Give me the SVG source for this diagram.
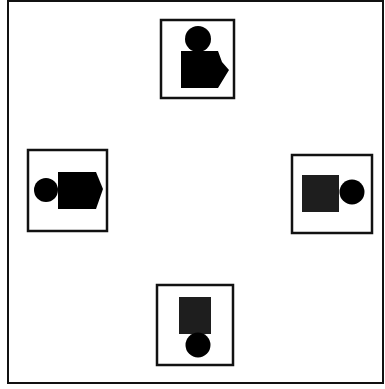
<svg xmlns="http://www.w3.org/2000/svg" width="385" height="389" viewBox="0 0 385 389">
<style>
.frame{fill:#fff;stroke:#111;stroke-width:2}
.box{fill:#fff;stroke:#111;stroke-width:2.5}
.solid{fill:#000}
.grey{fill:#1e1e1e}
</style>
<rect x="0" y="0" width="385" height="389" fill="#fff"/>
<rect id="frame" class="frame" x="8" y="1" width="375" height="382"/>
<g id="node-top">
<rect class="box" x="161" y="20" width="73" height="78"/>
<circle class="solid" cx="198" cy="39" r="13"/>
<polygon class="solid" points="181,51 218,51 222,62 229,70 218,88 181,88"/>
</g>
<g id="node-left">
<rect class="box" x="28" y="150" width="79" height="81"/>
<circle class="solid" cx="46" cy="190" r="12"/>
<polygon class="solid" points="58,172 96,172 103,189 96,209 58,209"/>
</g>
<g id="node-right">
<rect class="box" x="292" y="155" width="80" height="78"/>
<rect class="grey" x="302" y="175" width="37" height="37"/>
<circle class="solid" cx="352" cy="192" r="12.5"/>
</g>
<g id="node-bottom">
<rect class="box" x="157" y="285" width="76" height="80"/>
<rect class="grey" x="179" y="297" width="32" height="37"/>
<circle class="solid" cx="198" cy="345" r="12.5"/>
</g>
</svg>
